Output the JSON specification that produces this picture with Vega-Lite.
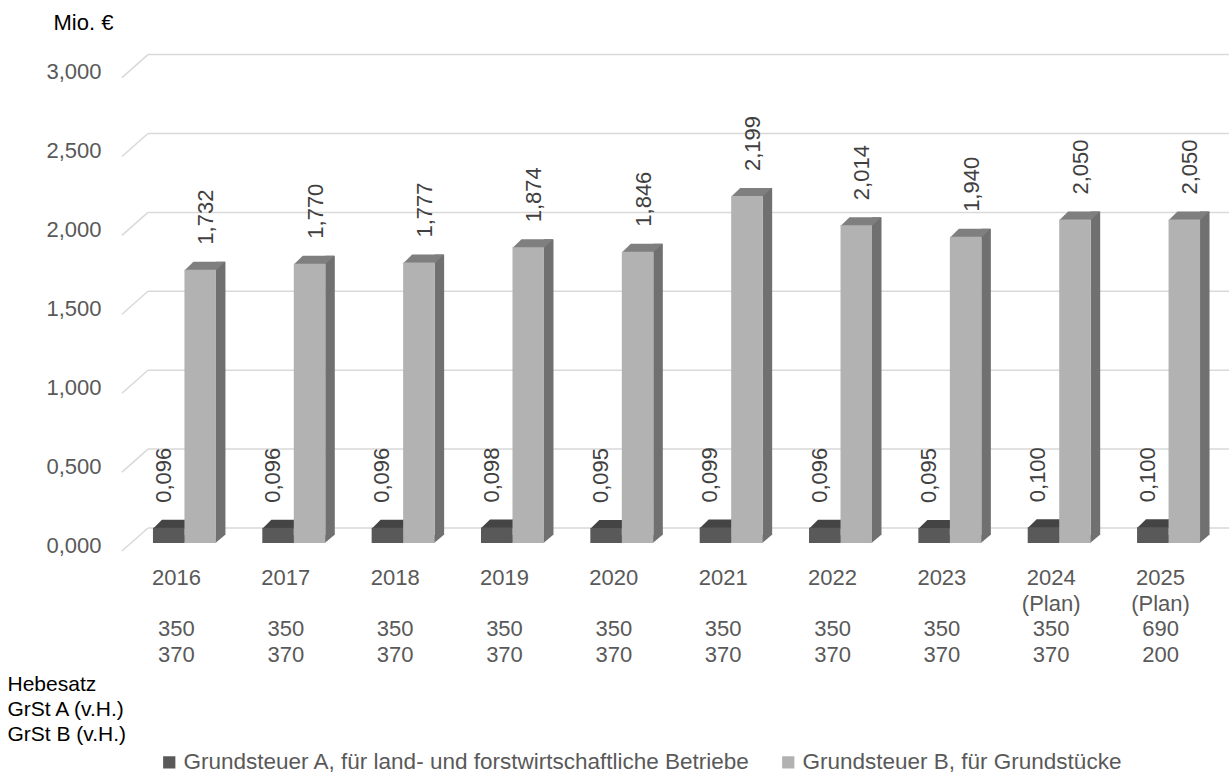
{
  "$schema": "https://vega.github.io/schema/vega-lite/v6.json",
  "width": 1093,
  "height": 503,
  "autosize": {"type": "none"},
  "padding": {"left": 130, "top": 40, "right": 6, "bottom": 232},
  "background": "white",
  "config": {
    "font": "Liberation Sans",
    "view": {"stroke": null},
    "locale": {"number": {"decimal": ",", "thousands": ".", "grouping": [3], "currency": ["", " €"]}}
  },
  "datasets": {
    "bars": [
      {"year": "2016", "series": "Grundsteuer A, für land- und forstwirtschaftliche Betriebe", "value": 0.096},
      {"year": "2016", "series": "Grundsteuer B, für Grundstücke", "value": 1.732},
      {"year": "2017", "series": "Grundsteuer A, für land- und forstwirtschaftliche Betriebe", "value": 0.096},
      {"year": "2017", "series": "Grundsteuer B, für Grundstücke", "value": 1.770},
      {"year": "2018", "series": "Grundsteuer A, für land- und forstwirtschaftliche Betriebe", "value": 0.096},
      {"year": "2018", "series": "Grundsteuer B, für Grundstücke", "value": 1.777},
      {"year": "2019", "series": "Grundsteuer A, für land- und forstwirtschaftliche Betriebe", "value": 0.098},
      {"year": "2019", "series": "Grundsteuer B, für Grundstücke", "value": 1.874},
      {"year": "2020", "series": "Grundsteuer A, für land- und forstwirtschaftliche Betriebe", "value": 0.095},
      {"year": "2020", "series": "Grundsteuer B, für Grundstücke", "value": 1.846},
      {"year": "2021", "series": "Grundsteuer A, für land- und forstwirtschaftliche Betriebe", "value": 0.099},
      {"year": "2021", "series": "Grundsteuer B, für Grundstücke", "value": 2.199},
      {"year": "2022", "series": "Grundsteuer A, für land- und forstwirtschaftliche Betriebe", "value": 0.096},
      {"year": "2022", "series": "Grundsteuer B, für Grundstücke", "value": 2.014},
      {"year": "2023", "series": "Grundsteuer A, für land- und forstwirtschaftliche Betriebe", "value": 0.095},
      {"year": "2023", "series": "Grundsteuer B, für Grundstücke", "value": 1.940},
      {"year": "2024 (Plan)", "series": "Grundsteuer A, für land- und forstwirtschaftliche Betriebe", "value": 0.100},
      {"year": "2024 (Plan)", "series": "Grundsteuer B, für Grundstücke", "value": 2.050},
      {"year": "2025 (Plan)", "series": "Grundsteuer A, für land- und forstwirtschaftliche Betriebe", "value": 0.100},
      {"year": "2025 (Plan)", "series": "Grundsteuer B, für Grundstücke", "value": 2.050}
    ],
    "rates": [
      {"year": "2016", "rateA": "350", "rateB": "370"},
      {"year": "2017", "rateA": "350", "rateB": "370"},
      {"year": "2018", "rateA": "350", "rateB": "370"},
      {"year": "2019", "rateA": "350", "rateB": "370"},
      {"year": "2020", "rateA": "350", "rateB": "370"},
      {"year": "2021", "rateA": "350", "rateB": "370"},
      {"year": "2022", "rateA": "350", "rateB": "370"},
      {"year": "2023", "rateA": "350", "rateB": "370"},
      {"year": "2024 (Plan)", "rateA": "350", "rateB": "370"},
      {"year": "2025 (Plan)", "rateA": "690", "rateB": "200"}
    ],
    "grid": [{"v": 0}, {"v": 0.5}, {"v": 1}, {"v": 1.5}, {"v": 2}, {"v": 2.5}, {"v": 3}]
  },
  "encoding": {
    "x": {
      "field": "year", "type": "nominal",
      "scale": {"paddingInner": 0.424, "paddingOuter": 0.21},
      "axis": {
        "title": ["Hebesatz", "GrSt A (v.H.)", "GrSt B (v.H.)"],
        "titleX": -123, "titleY": 130, "titleAlign": "left", "titleAnchor": "start", "titleBaseline": "top",
        "titleFontSize": 21, "titleFontWeight": "normal", "titleColor": "#000000", "titleLineHeight": 25,
        "labelExpr": "split(datum.label, ' ')", "labelAngle": 0, "labelFontSize": 22, "labelColor": "#595959",
        "labelPadding": 24, "labelLineHeight": 26, "labelOffset": -8, "labelBaseline": "top",
        "domain": false, "ticks": false, "grid": false
      }
    },
    "y": {
      "field": "value", "type": "quantitative",
      "scale": {"domain": [0, 3.1876], "nice": false},
      "axis": {
        "title": "Mio. €", "titleAngle": 0, "titleX": -77, "titleY": -18, "titleAlign": "left", "titleBaseline": "middle",
        "titleFontSize": 22, "titleFontWeight": "normal", "titleColor": "#000000",
        "values": [0, 0.5, 1, 1.5, 2, 2.5, 3], "format": ".3f",
        "labelFontSize": 22, "labelColor": "#595959", "labelPadding": 29, "labelOffset": 2,
        "domain": false, "ticks": false, "grid": false
      }
    }
  },
  "layer": [
    {
      "data": {"name": "grid"},
      "mark": {"type": "rule", "color": "#d9d9d9", "strokeWidth": 1.5, "xOffset": -36.5, "x2Offset": 60.5, "yOffset": -15},
      "encoding": {
        "x": {"datum": "2016", "type": "nominal"},
        "x2": {"datum": "2025 (Plan)"},
        "y": {"field": "v", "type": "quantitative"}
      }
    },
    {
      "data": {"name": "grid"},
      "mark": {"type": "rule", "color": "#d9d9d9", "strokeWidth": 1.5, "xOffset": -62.5, "x2Offset": -36.5, "yOffset": 8, "y2Offset": -15},
      "encoding": {
        "x": {"datum": "2016", "type": "nominal"},
        "x2": {"datum": "2016"},
        "y": {"field": "v", "type": "quantitative"},
        "y2": {"field": "v"}
      }
    },
    {
      "data": {"name": "bars"},
      "transform": [{"filter": "indexof(datum.series, 'Grundsteuer A') === 0"}],
      "mark": {"type": "rule", "strokeWidth": 9.5, "strokeCap": "butt", "xOffset": 4.75, "yOffset": -8, "y2Offset": -8, "color": "#3d3d3d"},
      "encoding": {
        "x": {"field": "year", "type": "nominal", "bandPosition": 0.5},
        "y2": {"datum": 0}
      }
    },
    {
      "data": {"name": "bars"},
      "transform": [{"filter": "indexof(datum.series, 'Grundsteuer B') === 0"}],
      "mark": {"type": "rule", "strokeWidth": 9.5, "strokeCap": "butt", "xOffset": 4.75, "yOffset": -8, "y2Offset": -8, "color": "#707070"},
      "encoding": {
        "x": {"field": "year", "type": "nominal", "bandPosition": 1},
        "y2": {"datum": 0}
      }
    },
    {
      "data": {"name": "bars"},
      "mark": {"type": "point", "filled": true, "opacity": 1, "strokeWidth": 0, "size": 992, "shape": "M 0.95 0.02 L 0.95 -0.508 L 1.571 -0.508 Z"},
      "encoding": {
        "xOffset": {"field": "series", "scale": {"paddingInner": 0, "paddingOuter": 0}},
        "y": {"datum": 0, "type": "quantitative"},
        "color": {"condition": {"test": "indexof(datum.series, 'Grundsteuer A') === 0", "value": "#3d3d3d"}, "value": "#707070"}
      }
    },
    {
      "data": {"name": "bars"},
      "mark": {"type": "point", "filled": true, "opacity": 1, "strokeWidth": 0, "size": 992, "shape": "M -1 0.05 L 1 0.05 L 1.571 -0.508 L -0.429 -0.508 Z"},
      "encoding": {
        "xOffset": {"field": "series"},
        "color": {"condition": {"test": "indexof(datum.series, 'Grundsteuer A') === 0", "value": "#444444"}, "value": "#7f7f7f"}
      }
    },
    {
      "data": {"name": "bars"},
      "mark": {"type": "bar"},
      "encoding": {
        "xOffset": {"field": "series"},
        "color": {
          "field": "series", "type": "nominal",
          "scale": {"range": ["#595959", "#b2b2b2"]},
          "legend": {
            "title": null, "orient": "none", "legendX": 28, "legendY": 711, "direction": "horizontal",
            "symbolType": "square", "symbolSize": 150, "symbolStrokeWidth": 0,
            "labelFontSize": 22.5, "labelColor": "#595959", "labelOffset": 3, "columnPadding": 26,
            "padding": 0, "labelLimit": 1000
          }
        }
      }
    },
    {
      "data": {"name": "bars"},
      "transform": [{"filter": "indexof(datum.series, 'Grundsteuer A') === 0"}],
      "mark": {"type": "text", "angle": 270, "align": "left", "baseline": "middle", "dx": 25, "dy": -5, "fontSize": 22, "color": "#404040"},
      "encoding": {
        "xOffset": {"field": "series"},
        "text": {"field": "value", "type": "quantitative", "format": ".3f"}
      }
    },
    {
      "data": {"name": "bars"},
      "transform": [{"filter": "indexof(datum.series, 'Grundsteuer B') === 0"}],
      "mark": {"type": "text", "angle": 270, "align": "left", "baseline": "middle", "dx": 25, "dy": 6, "fontSize": 22, "color": "#404040"},
      "encoding": {
        "xOffset": {"field": "series"},
        "text": {"field": "value", "type": "quantitative", "format": ".3f"}
      }
    },
    {
      "data": {"name": "bars"},
      "transform": [
        {"filter": "indexof(datum.series, 'Grundsteuer A') === 0"},
        {"lookup": "year", "from": {"data": {"name": "rates"}, "key": "year", "fields": ["rateA"]}}
      ],
      "mark": {"type": "text", "yOffset": 86, "dx": -8, "fontSize": 22, "fill": "#595959", "baseline": "middle", "align": "center", "clip": false},
      "encoding": {
        "x": {"field": "year", "type": "nominal"},
        "y": {"datum": 0, "type": "quantitative"},
        "text": {"field": "rateA", "type": "nominal"}
      }
    },
    {
      "data": {"name": "bars"},
      "transform": [
        {"filter": "indexof(datum.series, 'Grundsteuer B') === 0"},
        {"lookup": "year", "from": {"data": {"name": "rates"}, "key": "year", "fields": ["rateB"]}}
      ],
      "mark": {"type": "text", "yOffset": 112, "dx": -8, "fontSize": 22, "fill": "#595959", "baseline": "middle", "align": "center", "clip": false},
      "encoding": {
        "x": {"field": "year", "type": "nominal"},
        "y": {"datum": 0, "type": "quantitative"},
        "text": {"field": "rateB", "type": "nominal"}
      }
    }
  ]
}
